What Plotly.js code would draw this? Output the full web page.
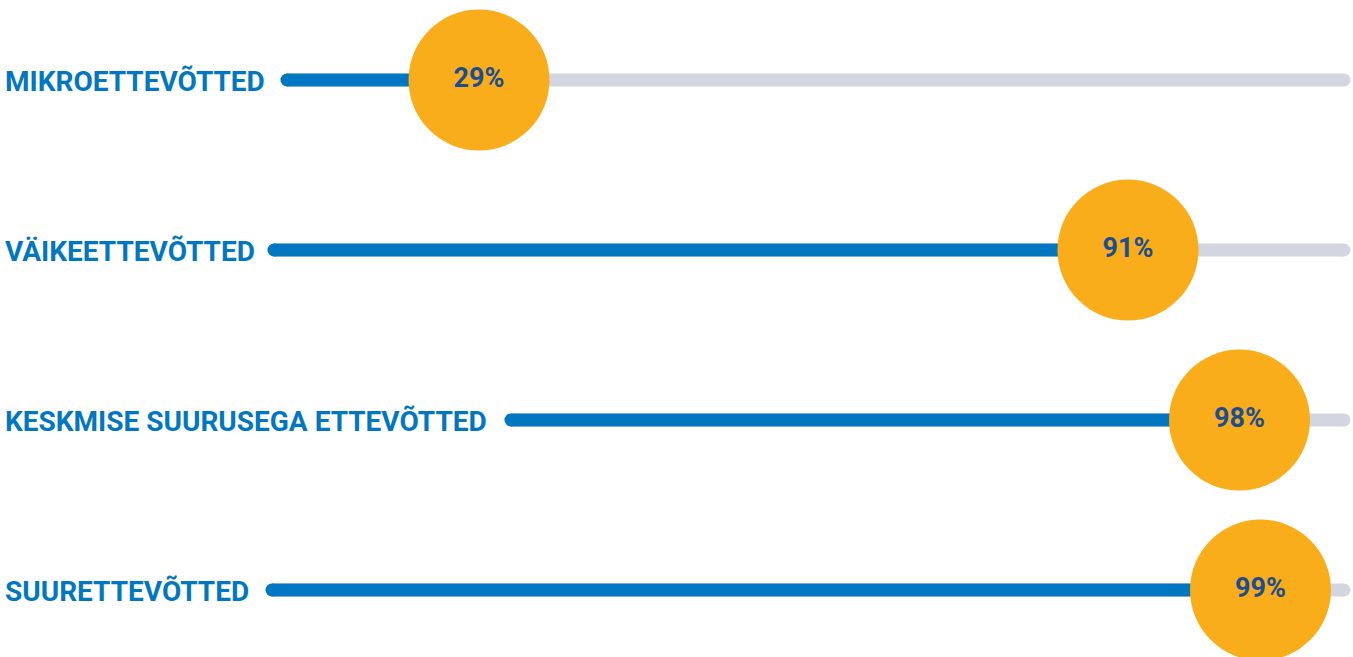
<!DOCTYPE html>
<html><head><meta charset="utf-8">
<script src="https://cdn.plot.ly/plotly-3.0.1.min.js"></script>
<style>html,body{margin:0;padding:0;background:#fff;overflow:hidden}#chart{width:1353px;height:657px}</style>
</head><body><div id="chart"></div>
<script>
// ---- data ----
const categories = ["MIKROETTEVÕTTED", "VÄIKEETTEVÕTTED", "KESKMISE SUURUSEGA ETTEVÕTTED", "SUURETTEVÕTTED"];
const values = [29, 91, 98, 99];
const valueLabels = ["29%", "91%", "98%", "99%"];
const scaleMax = 100;

// ---- layout (per-row scale start and track pixel placement) ----
const rowScaleMin = [13.24, 55.42, 84.06, 87.16];
const trackStartPx = [287, 274, 511, 272];
const trackEndPx = 1344;
const W = 1353, H = 657;

const BLUE = '#0077c0', GRAY = '#d3d5e0', ORANGE = '#f9ad1b', NAVY = '#1c4d8f';
const FONT = 'Roboto, "Open Sans", sans-serif';

const traces = [];
const layout = {
  width: W, height: H,
  margin: {l: 0, r: 0, t: 0, b: 0, pad: 0},
  paper_bgcolor: '#ffffff', plot_bgcolor: 'rgba(0,0,0,0)',
  showlegend: false, hovermode: false,
  yaxis: {
    type: 'category', categoryorder: 'array', categoryarray: categories,
    range: [3.394, -0.4706], autorange: false, visible: false, fixedrange: true, domain: [0, 1]
  },
  annotations: []
};

categories.forEach((cat, i) => {
  const xa = i === 0 ? 'x' : 'x' + (i + 1);
  const xaKey = i === 0 ? 'xaxis' : 'xaxis' + (i + 1);
  layout[xaKey] = {
    domain: [trackStartPx[i] / W, trackEndPx / W],
    range: [rowScaleMin[i], scaleMax], autorange: false,
    visible: false, fixedrange: true, anchor: 'y'
  };
  traces.push({
    type: 'scatter', mode: 'lines+markers', xaxis: xa, yaxis: 'y',
    x: [rowScaleMin[i], scaleMax], y: [cat, cat],
    line: {color: GRAY, width: 13}, marker: {color: GRAY, size: 13},
    cliponaxis: false, hoverinfo: 'skip'
  });
  traces.push({
    type: 'scatter', mode: 'lines+markers', xaxis: xa, yaxis: 'y',
    x: [rowScaleMin[i], values[i]], y: [cat, cat],
    line: {color: BLUE, width: 13}, marker: {color: BLUE, size: 13},
    cliponaxis: false, hoverinfo: 'skip'
  });
  traces.push({
    type: 'scatter', mode: 'markers+text', xaxis: xa, yaxis: 'y',
    x: [values[i]], y: [cat], text: [valueLabels[i]],
    textposition: 'middle center',
    textfont: {family: FONT, size: 27, weight: 700, color: NAVY},
    marker: {color: ORANGE, size: 141, line: {width: 0}},
    cliponaxis: false, hoverinfo: 'skip'
  });
  layout.annotations.push({
    xref: 'paper', yref: 'y', x: 0, y: cat, xanchor: 'left', yanchor: 'middle',
    xshift: 3, yshift: -1, showarrow: false, text: cat,
    font: {family: FONT, size: 28, weight: 700, color: BLUE}
  });
});

Plotly.newPlot('chart', traces, layout, {displayModeBar: false, staticPlot: true});
</script>
</body></html>
